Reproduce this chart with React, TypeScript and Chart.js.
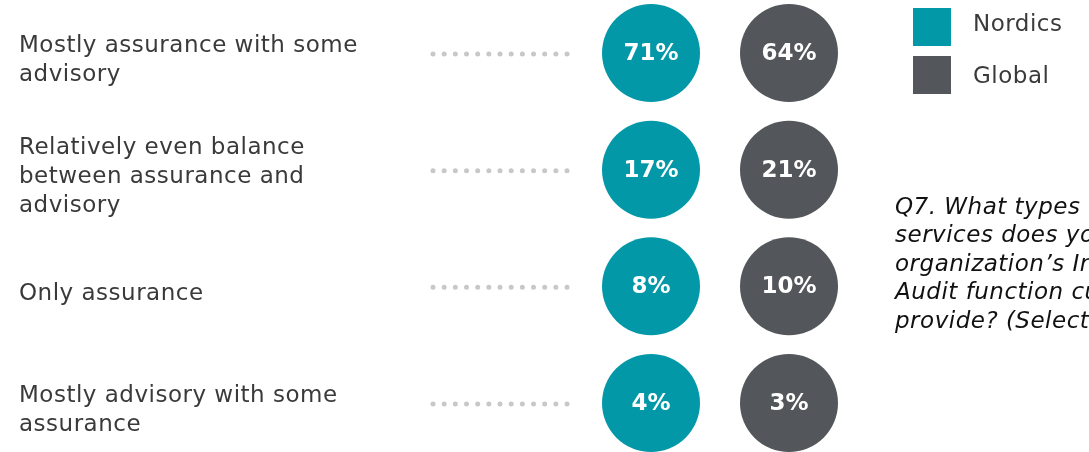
import React, { useEffect, useRef } from "react";
import { Chart, registerables } from "chart.js";

Chart.register(...registerables);

// ---- data ----
const categories: string[][] = [
  ["Mostly assurance with some", "advisory"],
  ["Relatively even balance", "between assurance and", "advisory"],
  ["Only assurance"],
  ["Mostly advisory with some", "assurance"],
];
const seriesNames = ["Nordics", "Global"];
const nordicsValues = [71, 17, 8, 4];
const globalValues = [64, 21, 10, 3];
const questionLines = [
  "Q7. What types of",
  "services does your",
  "organization\u2019s Internal",
  "Audit function currently",
  "provide? (Select one)",
];

// ---- styles ----
const TEAL = "#0398A8";
const GREY = "#53565A";
const TEXT = "#3a3a3a";
const FONT = "'DejaVu Sans', Verdana, sans-serif";
const BUBBLE_R = 49;

const customDraw = {
  id: "customDraw",
  beforeDatasetsDraw(chart: any) {
    const ctx = chart.ctx;
    const yScale = chart.scales.y;
    ctx.save();
    // dotted leader lines
    ctx.strokeStyle = "#c8c8c8";
    ctx.lineWidth = 5;
    ctx.lineCap = "round";
    ctx.setLineDash([0, 11.17]);
    categories.forEach((_, i) => {
      const y = yScale.getPixelForValue(i) + 1;
      ctx.beginPath();
      ctx.moveTo(433, y);
      ctx.lineTo(567.5, y);
      ctx.stroke();
    });
    ctx.setLineDash([]);
    // category labels
    ctx.fillStyle = TEXT;
    ctx.font = `23px ${FONT}`;
    (ctx as any).letterSpacing = "0.5px";
    ctx.textAlign = "left";
    ctx.textBaseline = "alphabetic";
    categories.forEach((lines, i) => {
      const y = yScale.getPixelForValue(i);
      const n = lines.length;
      lines.forEach((line, k) => {
        ctx.fillText(line, 19, y + 13.5 + (k - (n - 1) / 2) * 29);
      });
    });
    ctx.restore();
  },
  afterDatasetsDraw(chart: any) {
    const ctx = chart.ctx;
    ctx.save();
    // value labels
    ctx.fillStyle = "#ffffff";
    ctx.font = `bold 23px ${FONT}`;
    ctx.textAlign = "center";
    ctx.textBaseline = "middle";
    const valueSets = [nordicsValues, globalValues];
    valueSets.forEach((vals, d) => {
      const meta = chart.getDatasetMeta(d);
      meta.data.forEach((el: any, i: number) => {
        ctx.fillText(`${vals[i]}%`, el.x, el.y + 1);
      });
    });
    // legend
    ctx.textAlign = "left";
    ctx.textBaseline = "alphabetic";
    ctx.font = `23px ${FONT}`;
    (ctx as any).letterSpacing = "0.5px";
    chart.data.datasets.forEach((ds: any, d: number) => {
      const top = 8 + d * 48;
      ctx.fillStyle = ds.backgroundColor;
      ctx.fillRect(913, top, 38, 38);
      ctx.fillStyle = TEXT;
      ctx.fillText(ds.label, 973, top + 23 + d * 4);
    });
    // question text
    ctx.fillStyle = "#111111";
    ctx.font = `italic 23px ${FONT}`;
    questionLines.forEach((line, k) => {
      ctx.fillText(line, 895, 214 + k * 28.4);
    });
    ctx.restore();
  },
};

export default function App() {
  const canvasRef = useRef<HTMLCanvasElement | null>(null);

  useEffect(() => {
    if (!canvasRef.current) return;
    const chart = new Chart(canvasRef.current, {
      type: "bubble",
      data: {
        datasets: [
          {
            label: seriesNames[0],
            data: nordicsValues.map((_, i) => ({ x: 0, y: i, r: BUBBLE_R })),
            backgroundColor: TEAL,
            borderWidth: 0,
            clip: false,
          } as any,
          {
            label: seriesNames[1],
            data: globalValues.map((_, i) => ({ x: 1, y: i, r: BUBBLE_R })),
            backgroundColor: GREY,
            borderWidth: 0,
            clip: false,
          } as any,
        ],
      },
      options: {
        animation: false,
        responsive: true,
        maintainAspectRatio: false,
        events: [],
        layout: { padding: { left: 582, right: 231, top: 49, bottom: 49 } },
        scales: {
          x: { type: "linear", min: -0.5, max: 1.5, display: false },
          y: { type: "linear", min: -0.0343, max: 3, reverse: true, display: false },
        },
        plugins: {
          legend: { display: false },
          tooltip: { enabled: false },
        },
      },
      plugins: [customDraw],
    });
    return () => chart.destroy();
  }, []);

  return (
    <div
      style={{
        position: "fixed",
        left: 0,
        top: 0,
        width: 1089,
        height: 452,
        background: "#ffffff",
        overflow: "hidden",
      }}
    >
      <canvas ref={canvasRef} />
    </div>
  );
}
